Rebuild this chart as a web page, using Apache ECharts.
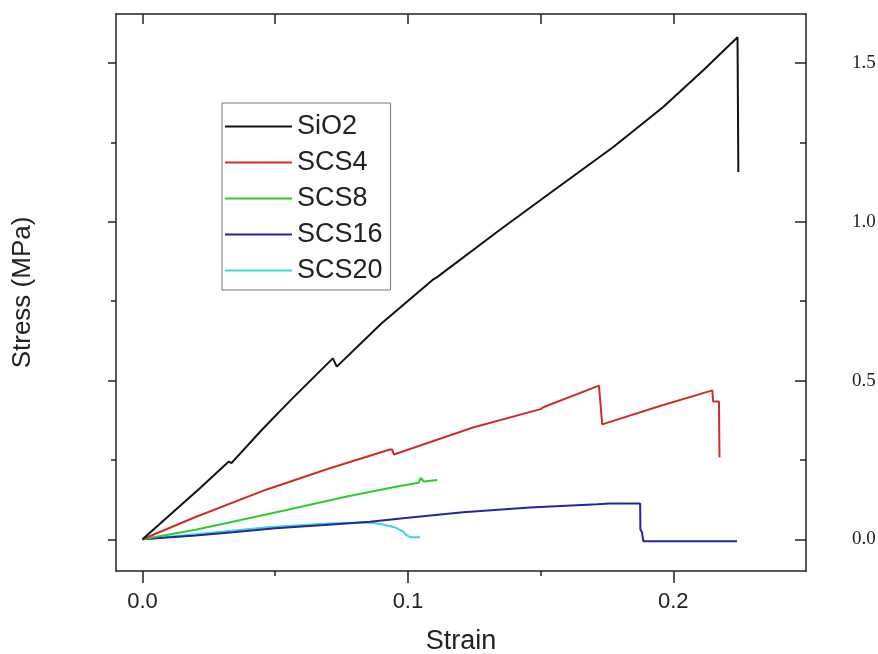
<!DOCTYPE html>
<html>
<head>
<meta charset="utf-8">
<script src="https://cdn.jsdelivr.net/npm/echarts@6/dist/echarts.min.js"></script>
<style>html,body{margin:0;padding:0;background:#fff;}#c{width:878px;height:654px;}</style>
</head>
<body>
<div id="c"></div>
<script>
// ---- data ----
const seriesNames = ['SiO2', 'SCS4', 'SCS8', 'SCS16', 'SCS20'];

const sio2Strain = [0, 0.0215, 0.0325, 0.0335, 0.045, 0.056, 0.0717, 0.0732, 0.090, 0.1094, 0.111, 0.1347, 0.1536, 0.1774, 0.1962, 0.2113, 0.2242, 0.2245];
const sio2Stress = [0, 0.160, 0.245, 0.240, 0.345, 0.440, 0.570, 0.544, 0.680, 0.818, 0.826, 0.975, 1.091, 1.236, 1.362, 1.478, 1.582, 1.157];

const scs4Strain = [0, 0.020, 0.0468, 0.070, 0.0932, 0.0940, 0.0947, 0.1245, 0.1500, 0.1510, 0.1720, 0.1732, 0.1950, 0.2147, 0.2150, 0.2172, 0.2174];
const scs4Stress = [0, 0.070, 0.157, 0.222, 0.283, 0.283, 0.267, 0.352, 0.410, 0.416, 0.484, 0.362, 0.420, 0.469, 0.434, 0.434, 0.258];

const scs8Strain = [0, 0.020, 0.040, 0.053, 0.077, 0.095, 0.1040, 0.1048, 0.1060, 0.111];
const scs8Stress = [0, 0.030, 0.066, 0.090, 0.135, 0.165, 0.178, 0.193, 0.182, 0.187];

const scs16Strain = [0, 0.020, 0.034, 0.050, 0.070, 0.0857, 0.100, 0.1208, 0.146, 0.1713, 0.176, 0.1875, 0.1876, 0.1882, 0.1887, 0.224];
const scs16Stress = [0, 0.012, 0.022, 0.035, 0.046, 0.055, 0.068, 0.085, 0.100, 0.110, 0.113, 0.113, 0.031, 0.022, -0.006, -0.006];

const scs20Strain = [0, 0.020, 0.047, 0.070, 0.0857, 0.090, 0.095, 0.098, 0.0996, 0.101, 0.1045];
const scs20Stress = [0, 0.016, 0.038, 0.050, 0.053, 0.047, 0.038, 0.025, 0.012, 0.006, 0.006];

const xMajorTicks = [0, 0.1, 0.2];
const xMinorTicks = [0.05, 0.15];
const xTopTicks = [0, 0.05, 0.1, 0.15, 0.2];
const yMajorTicks = [0, 0.5, 1.0, 1.5];
const yMinorTicks = [0.25, 0.75, 1.25];

const colors = ['#111111', '#d02c2c', '#2fcc2f', '#25259c', '#3fd3dc'];

function zip(xs, ys) { return xs.map((x, i) => [x, ys[i]]); }
const allData = [
  zip(sio2Strain, sio2Stress),
  zip(scs4Strain, scs4Stress),
  zip(scs8Strain, scs8Stress),
  zip(scs16Strain, scs16Stress),
  zip(scs20Strain, scs20Stress)
];

const X_MIN = -0.01, X_MAX = 0.25, Y_MIN = -0.1, Y_MAX = 1.655;
const frame = { show: true, onZero: false, lineStyle: { color: '#222', width: 1.5 } };
const noLine = { show: false, onZero: false };
const sans = 'Liberation Sans, Arial, sans-serif';

const chart = echarts.init(document.getElementById('c'), null, { renderer: 'canvas' });
chart.setOption({
  animation: false,
  backgroundColor: '#ffffff',
  grid: { left: 116, right: 72, top: 14, bottom: 83, containLabel: false, outerBoundsMode: 'none' },
  legend: {
    orient: 'vertical',
    left: 222, top: 103,
    data: seriesNames,
    icon: 'rect',
    itemWidth: 67, itemHeight: 2, itemGap: 9,
    padding: [10, 8, 6, 3],
    borderColor: '#777', borderWidth: 1,
    backgroundColor: '#fff',
    textStyle: { fontFamily: sans, fontSize: 27, color: '#222', lineHeight: 26 }
  },
  xAxis: [
    {
      type: 'value', position: 'bottom', min: X_MIN, max: X_MAX,
      name: 'Strain', nameLocation: 'middle', nameGap: 57,
      nameTextStyle: { fontFamily: sans, fontSize: 27, color: '#222' },
      axisLine: frame,
      axisTick: { show: true, inside: false, length: 12, customValues: xMajorTicks, lineStyle: { color: '#222', width: 1.5 } },
      axisLabel: { show: true, margin: 20, customValues: xMajorTicks, formatter: v => v.toFixed(1), fontFamily: sans, fontSize: 22, color: '#222' },
      splitLine: { show: false }
    },
    {
      type: 'value', position: 'bottom', min: X_MIN, max: X_MAX,
      axisLine: noLine,
      axisTick: { show: true, inside: false, length: 5, customValues: xMinorTicks, lineStyle: { color: '#222', width: 1.5 } },
      axisLabel: { show: false }, splitLine: { show: false }
    },
    {
      type: 'value', position: 'top', min: X_MIN, max: X_MAX,
      axisLine: frame,
      axisTick: { show: true, inside: true, length: 10, customValues: xTopTicks, lineStyle: { color: '#222', width: 1.5 } },
      axisLabel: { show: false }, splitLine: { show: false }
    }
  ],
  yAxis: [
    {
      type: 'value', position: 'left', min: Y_MIN, max: Y_MAX,
      name: 'Stress (MPa)', nameLocation: 'middle', nameGap: 80, nameRotate: 90,
      nameTextStyle: { fontFamily: sans, fontSize: 26, color: '#222' },
      axisLine: frame,
      axisTick: { show: true, inside: false, length: 8, customValues: yMajorTicks, lineStyle: { color: '#222', width: 1.5 } },
      axisLabel: { show: false }, splitLine: { show: false }
    },
    {
      type: 'value', position: 'left', min: Y_MIN, max: Y_MAX,
      axisLine: noLine,
      axisTick: { show: true, inside: false, length: 5, customValues: yMinorTicks, lineStyle: { color: '#222', width: 1.5 } },
      axisLabel: { show: false }, splitLine: { show: false }
    },
    {
      type: 'value', position: 'right', min: Y_MIN, max: Y_MAX,
      axisLine: frame,
      axisTick: { show: true, inside: true, length: 11, customValues: yMajorTicks, lineStyle: { color: '#222', width: 1.5 } },
      axisLabel: { show: true, margin: 46, customValues: yMajorTicks, formatter: v => v.toFixed(1), fontFamily: 'Liberation Serif, Times New Roman, serif', fontSize: 19, color: '#222' },
      splitLine: { show: false }
    },
    {
      type: 'value', position: 'right', min: Y_MIN, max: Y_MAX,
      axisLine: noLine,
      axisTick: { show: true, inside: true, length: 6, customValues: yMinorTicks, lineStyle: { color: '#222', width: 1.5 } },
      axisLabel: { show: false }, splitLine: { show: false }
    }
  ],
  series: seriesNames.map((name, i) => ({
    name: name,
    type: 'line',
    xAxisIndex: 0, yAxisIndex: 0,
    data: allData[i],
    symbol: 'none',
    smooth: false,
    color: colors[i],
    lineStyle: { color: colors[i], width: 2 },
    z: 10 - i
  }))
});
</script>
</body>
</html>
